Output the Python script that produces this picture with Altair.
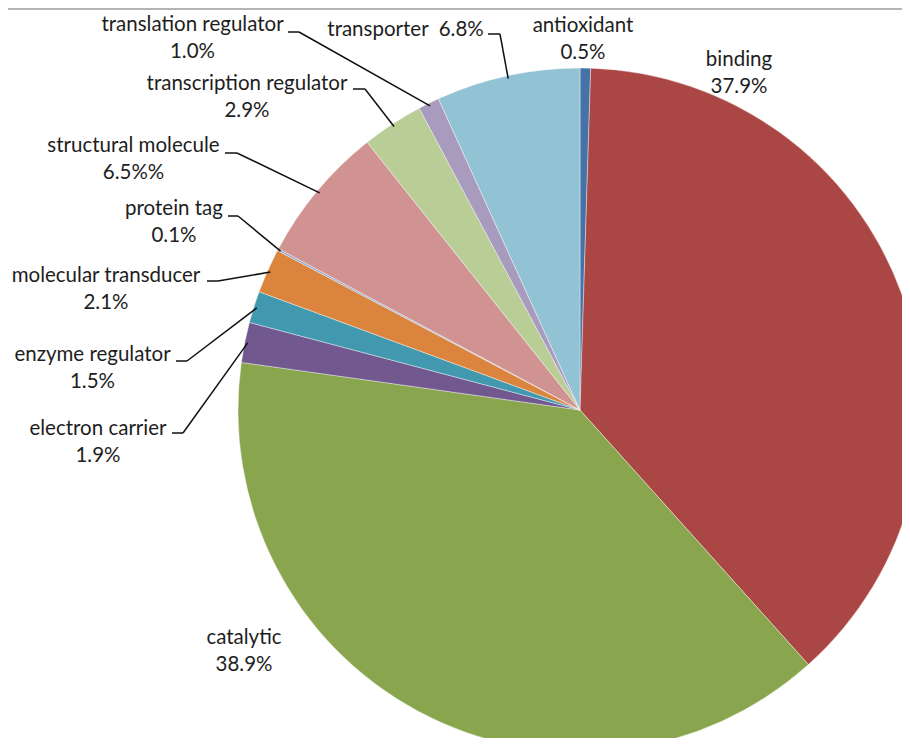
import math
import altair as alt
import pandas as pd

# ---- data ----
categories = ["antioxidant", "binding", "catalytic", "electron carrier",
              "enzyme regulator", "molecular transducer", "protein tag",
              "structural molecule", "transcription regulator",
              "translation regulator", "transporter"]
values = [0.5, 37.9, 38.9, 1.9, 1.5, 2.1, 0.1, 6.5, 2.9, 1.0, 6.8]
value_labels = ["0.5%", "37.9%", "38.9%", "1.9%", "1.5%", "2.1%", "0.1%",
                "6.5%%", "2.9%", "1.0%", "6.8%"]
colors = ["#4572A7", "#AA4643", "#89A54E", "#71588F", "#4198AF", "#DB843D",
          "#93A9CF", "#D19392", "#B9CD96", "#A99BBD", "#92C3D4"]

# ---- layout (page pixels) ----
OFF = 8
W, H = 894, 730
CX, CY, R = 580 - OFF, 410 - OFF, 342
R_LEAD = 339
LINE_GAP = 27
# name centre x, name middle y, single line?, leader [start, elbow]
layout = {
    "antioxidant": (583, 26, False, None),
    "binding": (739, 60, False, None),
    "catalytic": (244, 638, False, None),
    "electron carrier": (98, 429, False, [(172, 433), (183, 433)]),
    "enzyme regulator": (92.5, 355, False, [(176, 361), (187, 361)]),
    "molecular transducer": (106, 276, False, [(207, 281), (218, 281)]),
    "protein tag": (174, 209, False, [(228, 216), (238, 216)]),
    "structural molecule": (133.5, 146, False, [(225, 153), (237, 153)]),
    "transcription regulator": (247, 84, False, [(353, 89), (365, 89)]),
    "translation regulator": (192.5, 25, False, [(288, 32), (299, 32)]),
    "transporter": (405.5, 30, True, [(488, 34), (500, 34)]),
}

pie_df = pd.DataFrame({"category": categories, "value": values,
                       "idx": list(range(len(categories)))})

total = sum(values)
text_rows, rule_rows = [], []
cum = 0.0
for cat, v, lab in zip(categories, values, value_labels):
    mid = (cum + v / 2) / total * 2 * math.pi
    cum += v
    lx, ly, single, leader = layout[cat]
    if single:
        text_rows.append({"x": lx - OFF, "y": ly - OFF, "t": f"{cat}\u00a0 {lab}"})
    else:
        text_rows.append({"x": lx - OFF, "y": ly - OFF, "t": cat})
        text_rows.append({"x": lx - OFF, "y": ly - OFF + LINE_GAP, "t": lab})
    if leader:
        ax = CX + R_LEAD * math.sin(mid)
        ay = CY - R_LEAD * math.cos(mid)
        (sx, sy), (ex, ey) = leader
        rule_rows.append({"x": sx - OFF, "y": sy - OFF, "x2": ex - OFF, "y2": ey - OFF})
        rule_rows.append({"x": ex - OFF, "y": ey - OFF, "x2": ax, "y2": ay})

text_df = pd.DataFrame(text_rows)
rule_df = pd.DataFrame(rule_rows)

pie = alt.Chart(pie_df).mark_arc(radius=R, clip=True, stroke="white",
                                 strokeWidth=0.4).encode(
    theta=alt.Theta("value:Q", stack=True),
    color=alt.Color("category:N", scale=alt.Scale(domain=categories, range=colors),
                    legend=None),
    order=alt.Order("idx:Q"),
    x=alt.value(CX),
    y=alt.value(CY),
)

rules = alt.Chart(rule_df).mark_rule(color="#111111", strokeWidth=1.5).encode(
    x=alt.X("x:Q", scale=None, axis=None),
    y=alt.Y("y:Q", scale=None, axis=None),
    x2="x2:Q",
    y2="y2:Q",
)

texts = alt.Chart(text_df).mark_text(font="Lato", fontSize=20.5, color="#1e1e1e",
                                     align="center", baseline="middle").encode(
    x=alt.X("x:Q", scale=None, axis=None),
    y=alt.Y("y:Q", scale=None, axis=None),
    text="t:N",
)

topline = alt.Chart(pd.DataFrame({"a": [0]})).mark_rule(
    color="#b4b4b4", strokeWidth=2).encode(
    x=alt.value(0), x2=alt.value(W), y=alt.value(1))

chart = alt.layer(topline, pie, rules, texts).properties(
    width=W, height=H, padding=0, autosize=alt.AutoSizeParams(type="none")
).configure_view(stroke=None)

chart.save("out.html", embed_options={"renderer": "svg", "actions": False})
